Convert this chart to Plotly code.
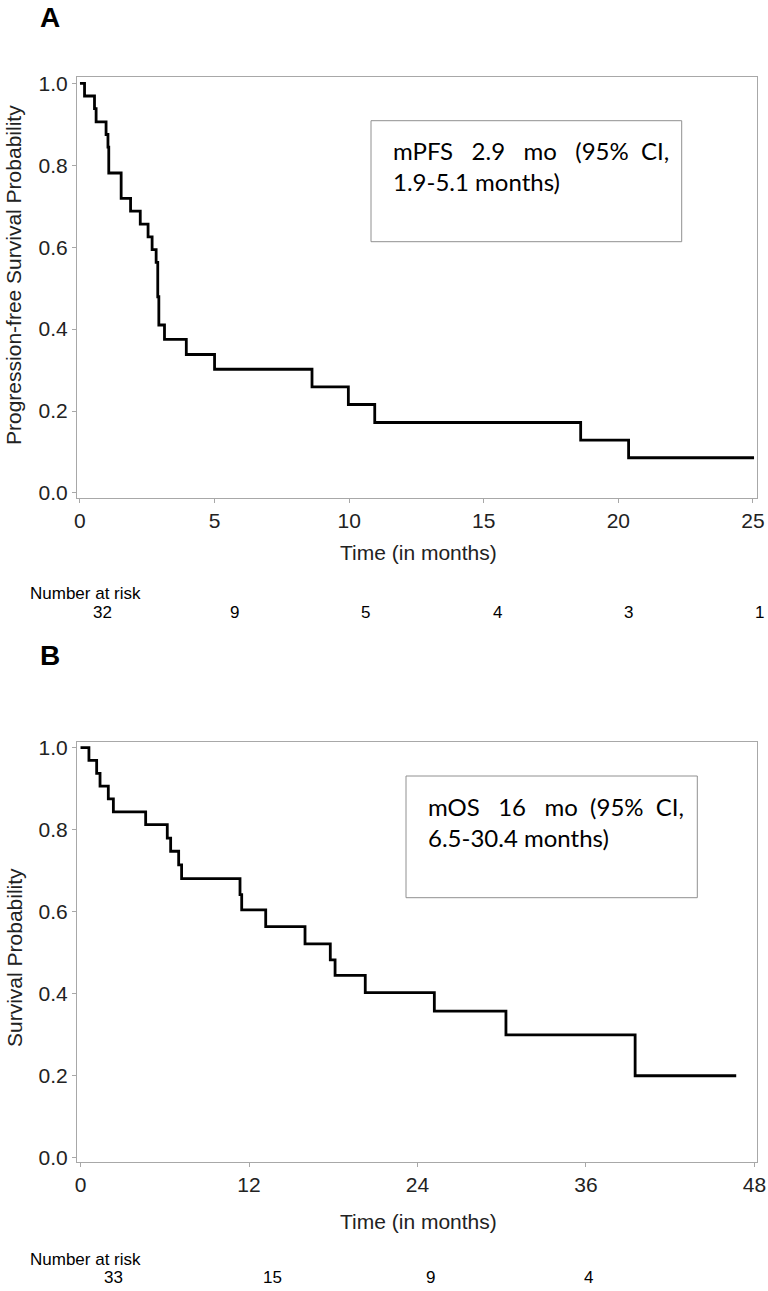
import plotly.graph_objects as go

# ---------------- data ----------------
pfs_time = [0, 0.17, 0.54, 0.60, 0.97, 1.04, 1.07, 1.53, 1.88, 2.24, 2.53, 2.68, 2.83,
            2.89, 2.93, 3.14, 3.95, 5.00, 8.62, 9.97, 10.95, 18.60, 20.38, 25.04]
pfs_surv = [1.0, 0.969, 0.938, 0.906, 0.875, 0.844, 0.781, 0.719, 0.688, 0.656, 0.625, 0.594, 0.563,
            0.479, 0.410, 0.375, 0.338, 0.302, 0.259, 0.216, 0.172, 0.129, 0.086, 0.086]

os_time = [0, 0.60, 1.15, 1.39, 1.98, 2.34, 4.64, 6.18, 6.42, 6.99, 7.20, 11.36, 11.48,
           13.19, 15.99, 17.79, 18.13, 20.28, 25.20, 30.30, 39.50, 46.70]
os_surv = [1.0, 0.969, 0.937, 0.906, 0.875, 0.843, 0.812, 0.779, 0.747, 0.714, 0.680, 0.641, 0.604,
           0.563, 0.521, 0.482, 0.444, 0.402, 0.357, 0.299, 0.199, 0.199]

pfs_ticks = [0, 5, 10, 15, 20, 25]
os_ticks = [0, 12, 24, 36, 48]
y_ticks = [0.0, 0.2, 0.4, 0.6, 0.8, 1.0]

pfs_risk_time = [0, 5, 10, 15, 20, 25]
pfs_risk_n = [32, 9, 5, 4, 3, 1]
os_risk_time = [0, 12, 24, 36]
os_risk_n = [33, 15, 9, 4]

S3 = "\u00a0\u00a0\u00a0"
S2 = "\u00a0\u00a0"
pfs_label = "mPFS" + S3 + "2.9" + S3 + "mo" + S3 + "(95%" + S2 + "CI,<br>1.9-5.1 months)"
os_label = "mOS" + S3 + "16" + S3 + "mo" + S2 + "(95%" + S2 + "CI,<br>6.5-30.4 months)"

# ---------------- figure ----------------
W, H = 768, 1291
FONT = "Liberation Sans Narrow, Arial Narrow, Liberation Sans, Arial, sans-serif"
BOXFONT = "Lato, Carlito, Calibri, sans-serif"
GRID = "#a8a8a8"
TXT = "#222222"

fig = go.Figure()
fig.add_trace(go.Scatter(x=pfs_time, y=pfs_surv, mode="lines", line=dict(shape="hv", color="black", width=2.8),
                         xaxis="x", yaxis="y", showlegend=False, hoverinfo="skip"))
fig.add_trace(go.Scatter(x=os_time, y=os_surv, mode="lines", line=dict(shape="hv", color="black", width=2.8),
                         xaxis="x2", yaxis="y2", showlegend=False, hoverinfo="skip"))

xdom = [77 / W, 757 / W]
yA = [1 - 497.7 / H, 1 - 77.3 / H]
yB = [1 - 1162 / H, 1 - 742.3 / H]

axis_common = dict(showline=True, linecolor=GRID, linewidth=1, mirror=True, ticks="outside",
                   ticklen=4, tickcolor=GRID, showgrid=False, zeroline=False, automargin=False,
                   tickfont=dict(family=FONT, size=21, color=TXT))

fig.update_layout(
    width=W, height=H, margin=dict(l=0, r=0, t=0, b=0, autoexpand=False),
    paper_bgcolor="white", plot_bgcolor="white",
    xaxis=dict(domain=xdom, anchor="y", range=[-0.11, 25.15], tickvals=pfs_ticks, **axis_common),
    yaxis=dict(domain=yA, anchor="x", range=[-0.0115, 1.0146], tickvals=y_ticks, tickformat=".1f", **axis_common),
    xaxis2=dict(domain=xdom, anchor="y2", range=[-0.25, 48.18], tickvals=os_ticks, **axis_common),
    yaxis2=dict(domain=yB, anchor="x2", range=[-0.0115, 1.013], tickvals=y_ticks, tickformat=".1f", **axis_common),
)

TITLEFONT = dict(family=FONT, size=21, color=TXT)
ann = []
# axis titles
ann.append(dict(text="Time (in months)", xref="paper", yref="paper", x=418 / W, y=1 - 552 / H, showarrow=False,
                xanchor="center", yanchor="middle", font=TITLEFONT))
ann.append(dict(text="Time (in months)", xref="paper", yref="paper", x=418 / W, y=1 - 1221 / H, showarrow=False,
                xanchor="center", yanchor="middle", font=TITLEFONT))
ann.append(dict(text="Progression-free Survival Probability", xref="paper", yref="paper", x=14 / W, y=1 - 275 / H,
                showarrow=False, textangle=-90, xanchor="center", yanchor="middle", font=TITLEFONT))
ann.append(dict(text="Survival Probability", xref="paper", yref="paper", x=14 / W, y=1 - 958 / H,
                showarrow=False, textangle=-90, xanchor="center", yanchor="middle", font=TITLEFONT))

# panel letters
ann.append(dict(text="<b>A</b>", xref="paper", yref="paper", x=50 / W, y=1 - 18 / H, showarrow=False,
                font=dict(family="Liberation Sans, Arial", size=28, color="black"), xanchor="center", yanchor="middle"))
ann.append(dict(text="<b>B</b>", xref="paper", yref="paper", x=50 / W, y=1 - 655 / H, showarrow=False,
                font=dict(family="Liberation Sans, Arial", size=28, color="black"), xanchor="center", yanchor="middle"))

# median boxes
ann.append(dict(text=pfs_label, xref="paper", yref="paper", x=391 / W, y=1 - 166 / H, showarrow=False,
                align="left", xanchor="left", yanchor="middle",
                font=dict(family=BOXFONT, size=24, color="black")))
ann.append(dict(text=os_label, xref="paper", yref="paper", x=426 / W, y=1 - 822 / H, showarrow=False,
                align="left", xanchor="left", yanchor="middle",
                font=dict(family=BOXFONT, size=24, color="black")))

# number at risk
RISKFONT = dict(family=FONT, size=17, color="black")
ann.append(dict(text="Number at risk", xref="paper", yref="paper", x=28 / W, y=1 - 593 / H, showarrow=False,
                xanchor="left", yanchor="middle", font=RISKFONT))
for i, (t, n) in enumerate(zip(pfs_risk_time, pfs_risk_n)):
    ann.append(dict(text=str(n), xref="x", yref="paper", x=t, xshift=23 - 3.2 * i, y=1 - 612 / H,
                    showarrow=False, xanchor="center", yanchor="middle", font=RISKFONT))
ann.append(dict(text="Number at risk", xref="paper", yref="paper", x=28 / W, y=1 - 1259 / H, showarrow=False,
                xanchor="left", yanchor="middle", font=RISKFONT))
for i, (t, n) in enumerate(zip(os_risk_time, os_risk_n)):
    ann.append(dict(text=str(n), xref="x2", yref="paper", x=t, xshift=33 - 10 * i, y=1 - 1277 / H,
                    showarrow=False, xanchor="center", yanchor="middle", font=RISKFONT))

fig.update_layout(annotations=ann)

# boxes around the median text
fig.add_shape(type="rect", xref="paper", yref="paper", x0=371 / W, x1=681.7 / W, y0=1 - 241.7 / H, y1=1 - 120.7 / H,
              line=dict(color="#909090", width=1))
fig.add_shape(type="rect", xref="paper", yref="paper", x0=406 / W, x1=697.3 / W, y0=1 - 897.7 / H, y1=1 - 776 / H,
              line=dict(color="#909090", width=1))

fig.write_html("out.html", config={"displayModeBar": False},
               post_script="document.body.style.margin='0';document.body.style.overflow='hidden';")
